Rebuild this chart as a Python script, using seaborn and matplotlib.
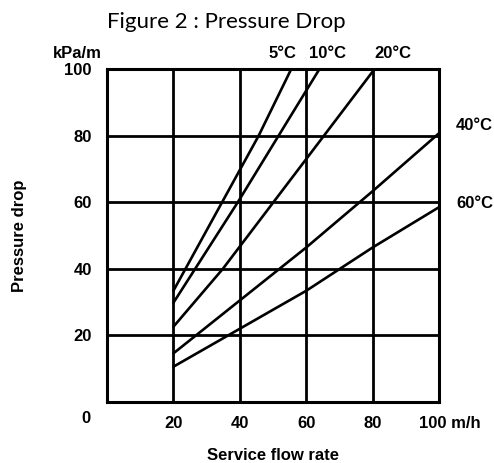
import matplotlib
matplotlib.use("Agg")
import matplotlib.pyplot as plt
import matplotlib.transforms as mtransforms
import seaborn as sns
import pandas as pd

# ---- data ----
temps = ["5°C", "10°C", "20°C", "40°C", "60°C"]
flow_5 = [20, 45.7, 55.5]
drop_5 = [33.4, 80, 100]
flow_10 = [20, 39.4, 64]
drop_10 = [29.8, 60, 100]
flow_20 = [20, 34.9, 80.6]
drop_20 = [22.6, 40, 100]
flow_40 = [20, 60, 80, 100]
drop_40 = [14.6, 46.4, 63.3, 80.7]
flow_60 = [20, 60, 80, 100]
drop_60 = [10.6, 33.4, 46.4, 58.5]
x_ticks = [20, 40, 60, 80, 100]
x_ticklabels = ["20", "40", "60", "80", "100 m/h"]
y_ticks = [20, 40, 60, 80, 100]
y_ticklabels = ["20", "40", "60", "80", "100"]

flows = [flow_5, flow_10, flow_20, flow_40, flow_60]
drops = [drop_5, drop_10, drop_20, drop_40, drop_60]
rows = []
for t, fx, dy in zip(temps, flows, drops):
    for a, b in zip(fx, dy):
        rows.append({"temp": t, "flow": a, "drop": b})
df = pd.DataFrame(rows)

sns.set_theme(style="white")
plt.rcParams["font.family"] = ["Liberation Sans", "DejaVu Sans"]
plt.rcParams["text.color"] = "black"
plt.rcParams["axes.labelcolor"] = "black"
plt.rcParams["xtick.color"] = "black"
plt.rcParams["ytick.color"] = "black"

FS = 12

fig = plt.figure(figsize=(4.94, 4.63), dpi=100)
ax = fig.add_axes([107/494, 61/463, 332/494, 333/463])

sns.lineplot(data=df, x="flow", y="drop", hue="temp", units="temp",
             estimator=None, sort=False, palette=["black"] * 5,
             linewidth=1.9, legend=False, ax=ax)

ax.set_xlim(0, 100)
ax.set_ylim(0, 100)
ax.set_xticks(x_ticks)
ax.set_xticklabels(x_ticklabels, fontweight="bold", fontsize=FS)
ax.set_yticks(y_ticks)
ax.set_yticklabels(y_ticklabels, fontweight="bold", fontsize=FS)
ax.tick_params(axis="both", length=0, colors="black")
ax.tick_params(axis="y", pad=11)
ax.tick_params(axis="x", pad=10)
# shift last x label so that the "100" sits on the gridline
lbl = ax.get_xticklabels()[-1]
lbl.set_transform(lbl.get_transform() + mtransforms.ScaledTranslation(0.11, 0, fig.dpi_scale_trans))

ax.grid(True, color="black", linewidth=2.0)
for s in ax.spines.values():
    s.set_color("black")
    s.set_linewidth(2.2)
    s.set_visible(True)

ax.set_xlabel("Service flow rate", fontweight="bold", fontsize=FS, va="center")
ax.set_ylabel("Pressure drop", fontweight="bold", fontsize=FS, va="center")
ax.xaxis.set_label_coords(0.5, -0.162)
ax.yaxis.set_label_coords(-0.265, 0.5)

ax.text(-0.051, -0.051, "0", transform=ax.transAxes, ha="right", va="center",
        fontweight="bold", fontsize=FS)
ax.text(-9, 104.8, "kPa/m", ha="center", va="center", fontweight="bold",
        fontsize=FS, clip_on=False)

label_pos = {"5°C": (53, 104.8), "10°C": (66.5, 104.8), "20°C": (86, 104.8),
             "40°C": (110.5, 82.9), "60°C": (110.8, 59.5)}
for t in temps:
    px, py = label_pos[t]
    ax.text(px, py, t, ha="center", va="center", fontweight="bold",
            fontsize=FS, clip_on=False)

fig.text(107/494, 1 - 22/463, "Figure 2 : Pressure Drop", ha="left", va="center",
         fontsize=16, family=["Lato", "DejaVu Sans"])

fig.savefig("out.png", dpi=100)
